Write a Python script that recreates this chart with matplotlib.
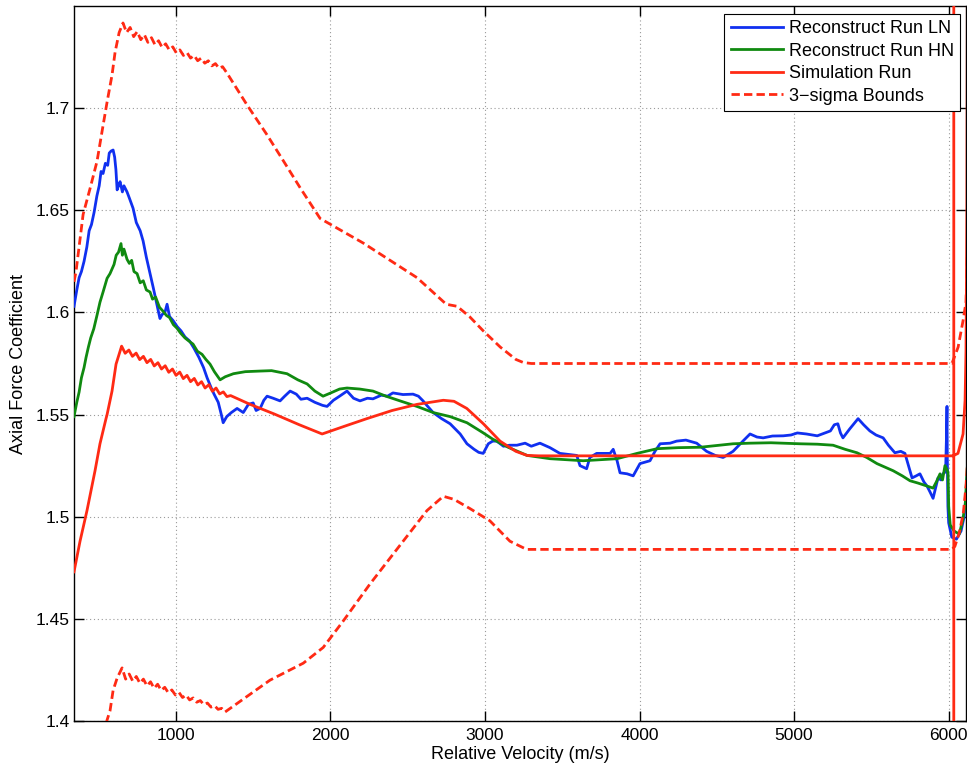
import matplotlib
matplotlib.use("Agg")
import matplotlib.pyplot as plt

plt.rcParams['font.family'] = ['Liberation Sans', 'DejaVu Sans']

# ---------------- data ----------------
ln_v = [342, 360, 375, 390, 407, 425, 440, 455, 472, 490, 505, 517, 530, 545, 560, 570, 582, 595, 605, 613,
        621, 630, 640, 655, 665, 685, 700, 724, 745, 770, 789, 810, 834, 855, 875, 898, 912, 930, 944, 960,
        983, 1010, 1034, 1060, 1090, 1118, 1150, 1180, 1203, 1230, 1248, 1275, 1295, 1307, 1330, 1360, 1397,
        1437, 1470, 1501, 1520, 1546, 1570, 1591, 1630, 1675, 1705, 1740, 1780, 1810, 1850, 1900, 1950, 1979,
        2020, 2060, 2108, 2150, 2192, 2240, 2276, 2330, 2370, 2405, 2470, 2535, 2570, 2600, 2630, 2665, 2720,
        2775, 2840, 2884, 2930, 2960, 2989, 3022, 3050, 3077, 3120, 3160, 3207, 3260, 3300, 3356, 3421, 3485,
        3540, 3594, 3615, 3658, 3679, 3723, 3810, 3830, 3855, 3874, 3920, 3959, 4003, 4068, 4100, 4133, 4198,
        4240, 4300, 4370, 4434, 4490, 4541, 4605, 4669, 4715, 4760, 4800, 4860, 4930, 4980, 5021, 5080, 5150,
        5200, 5235, 5260, 5283, 5300, 5316, 5360, 5414, 5450, 5490, 5530, 5576, 5610, 5652, 5690, 5717, 5740,
        5763, 5790, 5814, 5840, 5860, 5880, 5899, 5915, 5931, 5950, 5963, 5980, 5986, 5989, 5991, 5995, 6000,
        6020, 6050, 6080, 6100, 6112, 6125]
ln_cf = [1.603, 1.611, 1.617, 1.620, 1.625, 1.632, 1.640, 1.643, 1.649, 1.657, 1.662, 1.669, 1.668, 1.673,
         1.672, 1.678, 1.679, 1.6795, 1.676, 1.670, 1.660, 1.662, 1.664, 1.659, 1.662, 1.659, 1.656, 1.651,
         1.644, 1.640, 1.635, 1.627, 1.619, 1.612, 1.605, 1.597, 1.599, 1.600, 1.604, 1.598, 1.596, 1.593,
         1.591, 1.588, 1.586, 1.5825, 1.578, 1.573, 1.568, 1.563, 1.560, 1.556, 1.550, 1.546, 1.549, 1.551,
         1.553, 1.551, 1.555, 1.5557, 1.552, 1.553, 1.557, 1.559, 1.558, 1.5567, 1.559, 1.5615, 1.560, 1.5575,
         1.558, 1.556, 1.5545, 1.554, 1.557, 1.559, 1.5615, 1.558, 1.5567, 1.558, 1.5577, 1.5595, 1.559,
         1.5606, 1.5598, 1.560, 1.559, 1.5567, 1.554, 1.551, 1.548, 1.5455, 1.5405, 1.5357, 1.533, 1.5315,
         1.531, 1.5357, 1.537, 1.537, 1.5345, 1.535, 1.535, 1.536, 1.5345, 1.536, 1.5338, 1.531, 1.5305,
         1.530, 1.525, 1.5235, 1.529, 1.531, 1.531, 1.533, 1.5274, 1.5215, 1.521, 1.520, 1.526, 1.5274, 1.532,
         1.5357, 1.536, 1.537, 1.5375, 1.536, 1.532, 1.530, 1.529, 1.532, 1.537, 1.5405, 1.539, 1.5386,
         1.5395, 1.5396, 1.540, 1.541, 1.5405, 1.5396, 1.541, 1.542, 1.545, 1.5455, 1.541, 1.5386, 1.543,
         1.548, 1.545, 1.542, 1.540, 1.5386, 1.535, 1.5313, 1.532, 1.531, 1.525, 1.519, 1.520, 1.521, 1.517,
         1.515, 1.512, 1.509, 1.514, 1.519, 1.518, 1.521, 1.522, 1.540, 1.554, 1.530, 1.505, 1.497, 1.490,
         1.489, 1.493, 1.500, 1.510, 1.525]

hn_v = [342, 360, 375, 390, 407, 420, 435, 450, 470, 492, 510, 530, 556, 575, 601, 615, 630, 646, 655, 665,
        685, 700, 715, 730, 750, 770, 790, 810, 834, 850, 870, 895, 918, 940, 960, 985, 1008, 1030, 1060,
        1085, 1112, 1140, 1170, 1195, 1222, 1250, 1287, 1320, 1373, 1450, 1546, 1620, 1720, 1790, 1850, 1900,
        1953, 2000, 2060, 2108, 2190, 2276, 2360, 2451, 2560, 2665, 2775, 2884, 2990, 3050, 3150, 3273, 3421,
        3636, 3855, 3984, 4114, 4250, 4392, 4605, 4716, 4850, 5038, 5150, 5252, 5330, 5407, 5470, 5536, 5641,
        5700, 5750, 5800, 5860, 5899, 5920, 5944, 5960, 5976, 5990, 5996, 6000, 6010, 6035, 6068, 6090, 6107,
        6112, 6125]
hn_cf = [1.549, 1.556, 1.561, 1.568, 1.573, 1.578, 1.583, 1.5875, 1.592, 1.599, 1.605, 1.610, 1.6167, 1.619,
         1.6235, 1.628, 1.6295, 1.6337, 1.628, 1.631, 1.626, 1.624, 1.6255, 1.620, 1.619, 1.6145, 1.6155,
         1.611, 1.610, 1.6065, 1.6075, 1.6025, 1.6006, 1.5985, 1.5975, 1.594, 1.5923, 1.590, 1.5875, 1.586,
         1.5845, 1.581, 1.5795, 1.577, 1.5747, 1.571, 1.567, 1.5685, 1.570, 1.571, 1.5713, 1.5715, 1.570,
         1.567, 1.565, 1.5615, 1.559, 1.5605, 1.5625, 1.563, 1.5625, 1.5615, 1.559, 1.5567, 1.554, 1.551,
         1.549, 1.546, 1.541, 1.538, 1.534, 1.530, 1.5284, 1.5274, 1.5284, 1.531, 1.5333, 1.5338, 1.5340,
         1.5357, 1.536, 1.5362, 1.5357, 1.5355, 1.535, 1.533, 1.5313, 1.529, 1.526, 1.5225, 1.520, 1.5176,
         1.5165, 1.515, 1.514, 1.517, 1.521, 1.518, 1.525, 1.523, 1.521, 1.505, 1.496, 1.493, 1.4915, 1.498,
         1.506, 1.513, 1.530]

sim_v = [342, 381, 426, 478, 510, 549, 556, 588, 614, 646, 650, 673, 697, 720, 744, 767, 791, 814, 838, 861,
         885, 908, 932, 955, 979, 1002, 1026, 1049, 1073, 1096, 1120, 1143, 1167, 1190, 1214, 1237, 1261,
         1284, 1308, 1331, 1355, 1481, 1637, 1800, 1947, 2100, 2236, 2400, 2561, 2731, 2800, 2883, 2990, 3098,
         3200, 3273, 3350, 6028, 6060, 6093, 6106, 6112, 6118, 6122, 6033, 6033]
sim_cf = [1.473, 1.488, 1.503, 1.5225, 1.5357, 1.548, 1.550, 1.5615, 1.5747, 1.5825, 1.5835, 1.5800, 1.5816,
          1.5785, 1.5801, 1.5769, 1.5785, 1.5754, 1.5770, 1.5738, 1.5754, 1.5723, 1.5739, 1.5707, 1.5723,
          1.5692, 1.5708, 1.5676, 1.5692, 1.5661, 1.5677, 1.5645, 1.5661, 1.5630, 1.5646, 1.5614, 1.5630,
          1.5601, 1.5611, 1.5588, 1.5593, 1.555, 1.5503, 1.545, 1.5405, 1.5445, 1.548, 1.552, 1.555, 1.557,
          1.5565, 1.553, 1.5455, 1.537, 1.532, 1.530, 1.5298, 1.5298, 1.531, 1.5405, 1.557, 1.581, 1.65, 1.80,
          1.80, 1.30]

up_v = [342, 355, 401, 446, 491, 523, 556, 588, 608, 634, 659, 682, 705, 728, 751, 774, 797, 820, 843, 866,
        889, 912, 935, 958, 981, 1004, 1027, 1050, 1073, 1096, 1119, 1142, 1165, 1188, 1211, 1234, 1257, 1280,
        1303, 1333, 1461, 1590, 1698, 1805, 1934, 2212, 2561, 2750, 2820, 2900, 2989, 3100, 3200, 3248, 3300,
        6021, 6061, 6093, 6112, 6125]
up_cf = [1.615, 1.620, 1.648, 1.6607, 1.674, 1.6884, 1.703, 1.7162, 1.7275, 1.737, 1.7417, 1.7370, 1.7395,
         1.7350, 1.7375, 1.7335, 1.7360, 1.7322, 1.7345, 1.7310, 1.7330, 1.7297, 1.7315, 1.7285, 1.7300,
         1.7270, 1.7285, 1.7258, 1.7272, 1.7245, 1.7258, 1.7232, 1.7245, 1.7220, 1.7232, 1.7207, 1.7218,
         1.7195, 1.7203, 1.7170, 1.7016, 1.687, 1.674, 1.661, 1.646, 1.634, 1.617, 1.604, 1.603, 1.598, 1.591,
         1.583, 1.577, 1.5755, 1.575, 1.575, 1.583, 1.596, 1.605, 1.640]

lo_v = [342, 556, 575, 595, 621, 653, 676, 699, 722, 745, 768, 791, 814, 837, 860, 883, 906, 929, 952, 975,
        998, 1021, 1044, 1067, 1090, 1113, 1136, 1159, 1182, 1205, 1228, 1251, 1274, 1297, 1319, 1610, 1825,
        1954, 2084, 2256, 2471, 2625, 2731, 2800, 2903, 3032, 3162, 3270, 3300, 6021, 6040, 6068, 6095, 6112,
        6125]
lo_cf = [1.328, 1.4005, 1.405, 1.415, 1.421, 1.426, 1.4205, 1.4230, 1.4195, 1.4218, 1.4185, 1.4205, 1.4172,
         1.4192, 1.4160, 1.4180, 1.4150, 1.4165, 1.4138, 1.4152, 1.4127, 1.4140, 1.4115, 1.4127, 1.4103,
         1.4113, 1.4092, 1.4100, 1.4080, 1.4088, 1.4068, 1.4075, 1.4057, 1.4062, 1.4044, 1.420, 1.4283,
         1.436, 1.449, 1.467, 1.488, 1.503, 1.510, 1.5085, 1.504, 1.498, 1.488, 1.484, 1.484, 1.484, 1.4855,
         1.492, 1.502, 1.515, 1.530]

x_ticks = [1000, 2000, 3000, 4000, 5000, 6000]
y_ticks = [1.4, 1.45, 1.5, 1.55, 1.6, 1.65, 1.7]
y_tick_labels = ['1.4', '1.45', '1.5', '1.55', '1.6', '1.65', '1.7']

# ---------------- plot ----------------
BLUE = '#1030f0'
GREEN = '#108a10'
RED = '#ff2a14'
FS_TICK = 12.5
FS_LAB = 13

fig = plt.figure(figsize=(9.67, 7.71), dpi=100)
ax = fig.add_axes([74 / 967, 1 - 721 / 771, 892 / 967, 715 / 771])

lw = 2.0
ax.plot(ln_v, ln_cf, color=BLUE, lw=lw, label='Reconstruct Run LN', zorder=3)
ax.plot(hn_v, hn_cf, color=GREEN, lw=lw, label='Reconstruct Run HN', zorder=3)
ax.plot(sim_v, sim_cf, color=RED, lw=lw, label='Simulation Run', zorder=4)
ax.plot(up_v, up_cf, color=RED, lw=lw, ls=(0, (3.0, 1.5)), label='3\u2212sigma Bounds', zorder=4)
ax.plot(lo_v, lo_cf, color=RED, lw=lw, ls=(0, (3.0, 1.5)), zorder=4)

ax.set_xlim(342, 6112)
ax.set_ylim(1.4, 1.75)
ax.set_xticks(x_ticks)
ax.set_xticklabels([str(t) for t in x_ticks], fontsize=FS_TICK)
ax.set_yticks(y_ticks)
ax.set_yticklabels(y_tick_labels, fontsize=FS_TICK)
ax.tick_params(direction='in', length=7, width=1, top=True, right=True)
ax.tick_params(axis='x', pad=5)
ax.tick_params(axis='y', pad=3)
ax.grid(True, color='#9a9a9a', ls=(0, (1, 2.5)), lw=0.8)
for s in ax.spines.values():
    s.set_linewidth(1.0)
    s.set_color('black')

ax.set_xlabel('Relative Velocity (m/s)', fontsize=FS_LAB, labelpad=2)
ax.set_ylabel('Axial Force Coefficient', fontsize=FS_LAB, labelpad=6)

leg = ax.legend(loc='upper right', bbox_to_anchor=(1 - 6 / 892, 1 - 8 / 715), borderaxespad=0,
                fontsize=FS_LAB, frameon=True, fancybox=False, framealpha=1, edgecolor='black',
                handlelength=2.9, handletextpad=0.3, labelspacing=0.3, borderpad=0.35)
leg.get_frame().set_linewidth(0.8)

fig.savefig('out.png', dpi=100)
